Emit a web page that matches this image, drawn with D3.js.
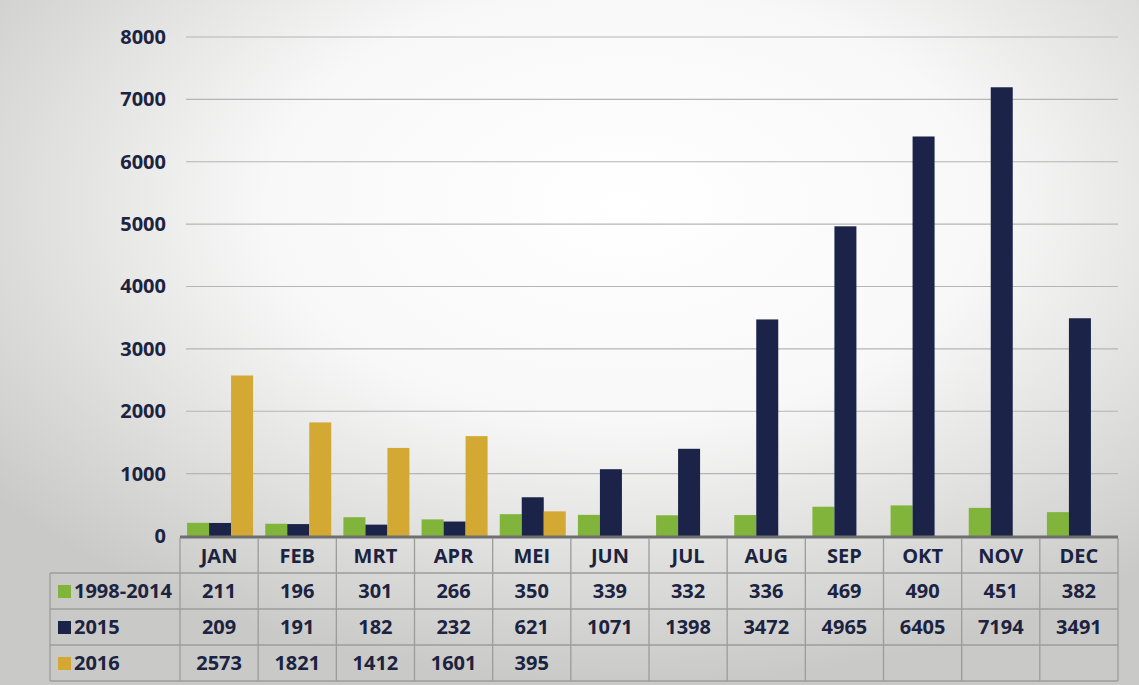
<!DOCTYPE html>
<html>
<head>
<meta charset="utf-8">
<script src="https://cdn.jsdelivr.net/npm/d3@7"></script>
<style>
  html, body { margin: 0; padding: 0; background: #e6e6e4; }
  svg { display: block; font-family: "Open Sans", sans-serif; }
</style>
</head>
<body>
<main></main>
<script>
const months = ["JAN", "FEB", "MRT", "APR", "MEI", "JUN", "JUL", "AUG", "SEP", "OKT", "NOV", "DEC"];
const series = ["1998-2014", "2015", "2016"];
const avg9814 = [211, 196, 301, 266, 350, 339, 332, 336, 469, 490, 451, 382];
const y2015 = [209, 191, 182, 232, 621, 1071, 1398, 3472, 4965, 6405, 7194, 3491];
const y2016 = [2573, 1821, 1412, 1601, 395, null, null, null, null, null, null, null];
const yTicks = [0, 1000, 2000, 3000, 4000, 5000, 6000, 7000, 8000];

const width = 1139;
const height = 685;
const margin = {top: 37, right: 21, bottom: 149, left: 180};
const colors = ["#80b43a", "#1b2448", "#d3a833"];
const ink = "#1c2340";
const fontSize = "20px";

const values = [avg9814, y2015, y2016];

const svg = d3.select('main').append('svg')
    .attr('width', width)
    .attr('height', height);

// photo-ish background: white centre, grey edges
const defs = svg.append("defs");
const grad = defs.append("radialGradient")
    .attr("id", "bg")
    .attr("cx", "0.55").attr("cy", "0.3").attr("r", "0.7");
grad.append("stop").attr("offset", "0%").attr("stop-color", "#ffffff");
grad.append("stop").attr("offset", "45%").attr("stop-color", "#f8f8f8");
grad.append("stop").attr("offset", "100%").attr("stop-color", "#c9c9c7");
svg.append("rect").attr("width", width).attr("height", height).attr("fill", "url(#bg)");

const x = d3.scaleBand()
    .domain(months)
    .range([margin.left, width - margin.right]);

const x1 = d3.scaleBand()
    .domain(series)
    .range([0, 66]);

const y = d3.scaleLinear()
    .domain([0, 8000])
    .range([height - margin.bottom, margin.top]);

// gridlines
svg.append("g")
  .selectAll("line")
  .data(yTicks.slice(1))
  .enter().append("line")
  .attr("x1", margin.left + 6)
  .attr("x2", width - margin.right)
  .attr("y1", d => y(d))
  .attr("y2", d => y(d))
  .style("stroke", "#b5b5b5")
  .style("stroke-width", 1.2);

// y axis labels
const yAxis = svg.append("g")
  .attr("transform", `translate(${margin.left - 14},0)`)
  .call(d3.axisLeft(y).tickValues(yTicks).tickSize(0).tickPadding(0).tickFormat(d3.format("d")));
yAxis.select(".domain").remove();
yAxis.selectAll("text")
  .style("font-size", fontSize)
  .style("font-weight", "700")
  .style("font-family", "'Open Sans', sans-serif")
  .style("fill", ink);

// bars
const groups = svg.append("g")
  .selectAll("g")
  .data(months)
  .enter().append("g")
  .attr("transform", d => `translate(${x(d) + (x.bandwidth() - 66) / 2 + 1},0)`);

groups.selectAll("rect")
  .data((m, i) => series.map((s, j) => ({s: s, v: values[j][i], c: colors[j]})))
  .enter().append("rect")
  .filter(d => d.v != null)
  .attr("x", d => x1(d.s))
  .attr("width", x1.bandwidth())
  .attr("y", d => y(d.v))
  .attr("height", d => y(0) - y(d.v))
  .style("fill", d => d.c);

// baseline
svg.append("line")
  .attr("x1", margin.left)
  .attr("x2", width - margin.right)
  .attr("y1", y(0) + 1)
  .attr("y2", y(0) + 1)
  .style("stroke", "#6f6f6f")
  .style("stroke-width", 3);

// data table
const rowH = 36;
const tableTop = y(0) + 2;
const legendLeft = 50;
const table = svg.append("g");
const gridColor = "#9c9c9c";

// header row (month names)
table.selectAll(".mon")
  .data(months)
  .enter().append("text")
  .attr("x", d => x(d) + x.bandwidth() / 2)
  .attr("y", tableTop + rowH / 2 + 7)
  .attr("text-anchor", "middle")
  .style("font-size", fontSize)
  .style("font-weight", "700")
  .style("fill", ink)
  .text(d => d);

// horizontal lines
const hLines = [1, 2, 3, 4].map(k => tableTop + k * rowH - 1);
table.selectAll(".hl")
  .data(hLines)
  .enter().append("line")
  .attr("x1", legendLeft)
  .attr("x2", width - margin.right)
  .attr("y1", d => d)
  .attr("y2", d => d)
  .style("stroke", gridColor)
  .style("stroke-width", 1.3);

// vertical lines
const vLines = months.map(m => x(m)).concat([width - margin.right]);
table.selectAll(".vl")
  .data(vLines)
  .enter().append("line")
  .attr("x1", d => d)
  .attr("x2", d => d)
  .attr("y1", tableTop)
  .attr("y2", tableTop + 4 * rowH - 1)
  .style("stroke", gridColor)
  .style("stroke-width", 1.3);
table.append("line")
  .attr("x1", legendLeft).attr("x2", legendLeft)
  .attr("y1", tableTop + rowH - 1).attr("y2", tableTop + 4 * rowH - 1)
  .style("stroke", gridColor)
  .style("stroke-width", 1.3);

// rows
series.forEach((s, j) => {
  const cy = tableTop + (j + 1) * rowH + rowH / 2;
  table.append("rect")
    .attr("x", legendLeft + 8)
    .attr("y", cy - 7)
    .attr("width", 13)
    .attr("height", 13)
    .style("fill", colors[j]);
  table.append("text")
    .attr("x", legendLeft + 24)
    .attr("y", cy + 6)
    .style("font-size", fontSize)
    .style("font-weight", "700")
    .style("fill", ink)
    .text(s);
  table.selectAll(".v" + j)
    .data(months)
    .enter().append("text")
    .attr("x", d => x(d) + x.bandwidth() / 2)
    .attr("y", cy + 6)
    .attr("text-anchor", "middle")
    .style("font-size", fontSize)
    .style("font-weight", "700")
    .style("fill", ink)
    .text((d, i) => values[j][i] == null ? "" : values[j][i]);
});
</script>
</body>
</html>
